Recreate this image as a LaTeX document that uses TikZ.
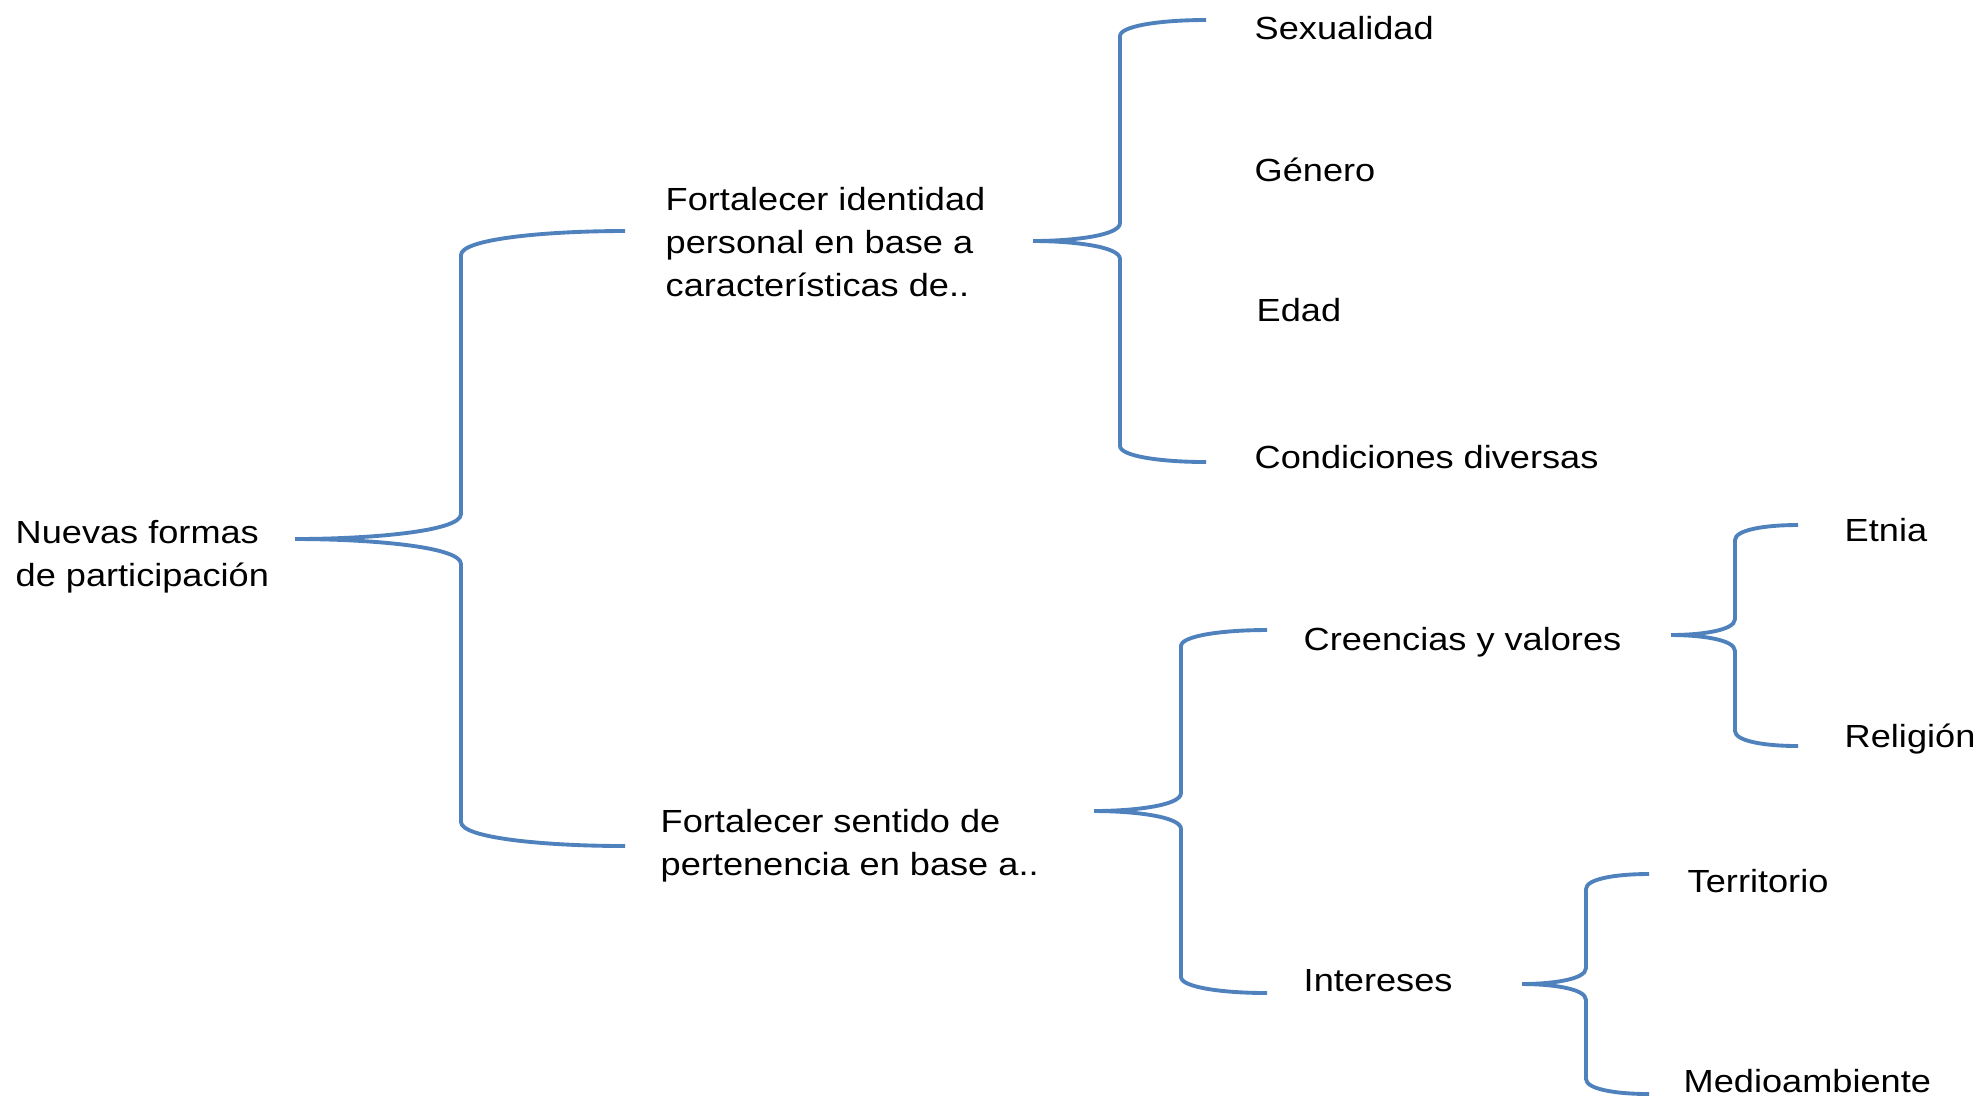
\documentclass[tikz,border=0pt]{standalone}
\usepackage{fontspec}
\setmainfont[FakeStretch=1.13]{Liberation Sans}
\definecolor{bracecol}{RGB}{79,129,189}
\begin{document}
\begin{tikzpicture}[x=0.01cm, y=-0.01cm, txt/.style = {anchor=base west, inner sep=0, align=left, font=\fontsize{9.1}{12.2}\selectfont}, brace/.style = {draw=bracecol, line width=1.1pt}]
\useasboundingbox (0,0) rectangle (1980,1099);
\node[txt] (nuevas) at (15,586) {Nuevas formas\\de participación};
\node[txt] (identidad) at (665,296) {Fortalecer identidad\\personal en base a\\características de..};
\node[txt] (pertenencia) at (660,875) {Fortalecer sentido de\\pertenencia en base a..};
\node[txt] (sexualidad) at (1254,39) {Sexualidad};
\node[txt] (genero) at (1254,181) {Género};
\node[txt] (edad) at (1256,321) {Edad};
\node[txt] (condiciones) at (1254,468) {Condiciones diversas};
\node[txt] (creencias) at (1303,650) {Creencias y valores};
\node[txt] (intereses) at (1303,991) {Intereses};
\node[txt] (etnia) at (1844,541) {Etnia};
\node[txt] (religion) at (1844,747) {Religión};
\node[txt] (territorio) at (1687,892) {Territorio};
\node[txt] (medio) at (1683,1092) {Medioambiente};
\coordinate (nuevas-tip) at (295,539);
\coordinate (identidad-in) at (625,231);
\coordinate (pertenencia-in) at (625,846);
\coordinate (identidad-tip) at (1033,241);
\coordinate (sexualidad-in) at (1206,20);
\coordinate (condiciones-in) at (1206,462);
\coordinate (pertenencia-tip) at (1094,811);
\coordinate (creencias-in) at (1267,630);
\coordinate (intereses-in) at (1267,993);
\coordinate (creencias-tip) at (1671,635);
\coordinate (etnia-in) at (1798,525);
\coordinate (religion-in) at (1798,746);
\coordinate (intereses-tip) at (1522,984);
\coordinate (territorio-in) at (1649,874);
\coordinate (medio-in) at (1649,1094);
\draw[brace] (identidad-in) .. controls (545,231) and (461,239) .. (461,255) -- (461,514) .. controls (461,532) and (365,539) .. (nuevas-tip) .. controls (365,539) and (461,546) .. (461,564) -- (461,822) .. controls (461,838) and (545,846) .. (pertenencia-in);
\draw[brace] (sexualidad-in) .. controls (1160,20) and (1120,26) .. (1120,36) -- (1120,223) .. controls (1120,236) and (1070,241) .. (identidad-tip) .. controls (1070,241) and (1120,246) .. (1120,259) -- (1120,446) .. controls (1120,456) and (1160,462) .. (condiciones-in);
\draw[brace] (creencias-in) .. controls (1221,630) and (1181,636) .. (1181,646) -- (1181,793) .. controls (1181,806) and (1131,811) .. (pertenencia-tip) .. controls (1131,811) and (1181,816) .. (1181,829) -- (1181,977) .. controls (1181,987) and (1221,993) .. (intereses-in);
\draw[brace] (etnia-in) .. controls (1764,525) and (1735,530) .. (1735,540) -- (1735,619) .. controls (1735,631) and (1698,635) .. (creencias-tip) .. controls (1698,635) and (1735,639) .. (1735,651) -- (1735,731) .. controls (1735,741) and (1764,746) .. (religion-in);
\draw[brace] (territorio-in) .. controls (1615,874) and (1586,879) .. (1586,889) -- (1586,968) .. controls (1586,980) and (1549,984) .. (intereses-tip) .. controls (1549,984) and (1586,988) .. (1586,1000) -- (1586,1079) .. controls (1586,1089) and (1615,1094) .. (medio-in);
\end{tikzpicture}
\end{document}
